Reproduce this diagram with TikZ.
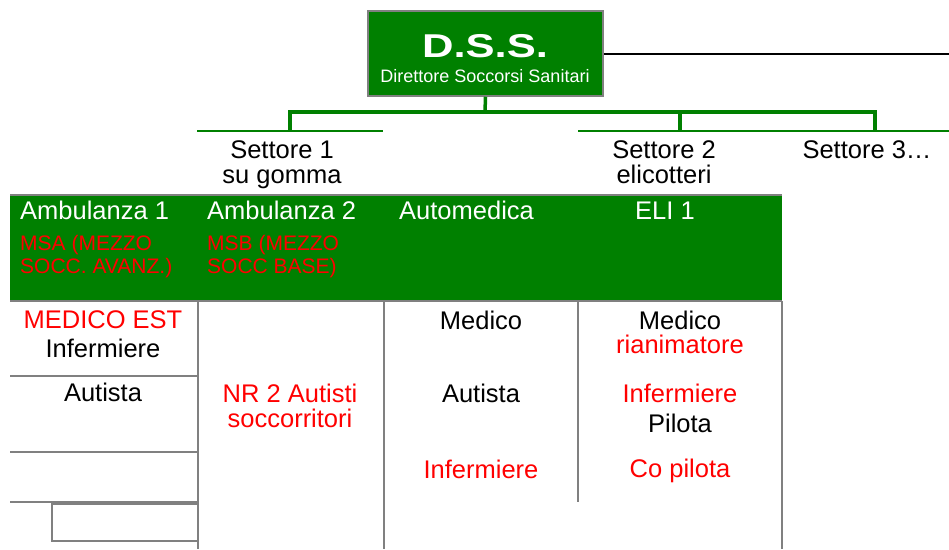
\documentclass[tikz,border=0pt]{standalone}
\usepackage{fontspec}
\setmainfont{Liberation Sans}
\usepackage{tikz}
\usetikzlibrary{positioning}
\definecolor{verde}{RGB}{0,128,0}
\definecolor{grigio}{RGB}{128,128,128}
\definecolor{rosso}{RGB}{255,0,0}
\tikzstyle{dss}=[draw=grigio,line width=1.5pt,fill=verde,minimum width=235pt,minimum height=85pt,inner sep=0pt]
\tikzstyle{ramo}=[draw,verde,line width=3.5pt]
\tikzstyle{settline}=[draw,verde,line width=2pt]
\tikzstyle{griglia}=[draw,grigio,line width=2pt]
\tikzstyle{voce}=[inner sep=0pt,anchor=base,font=\fontsize{25.5}{28}\selectfont]
\tikzstyle{mezzo}=[inner sep=0pt,anchor=base west,text=white,font=\fontsize{25.5}{28}\selectfont]
\tikzstyle{sigla}=[inner sep=0pt,anchor=base west,text=rosso,font=\fontsize{21}{21}\selectfont]
\begin{document}
\begin{tikzpicture}[x=1pt,y=-1pt]
	\useasboundingbox (0,0) rectangle (949,549);
	
	\node[dss] (dss) at (485.5,53.5) {};
	\node[inner sep=0pt,anchor=base,text=white,font=\bfseries\fontsize{33}{33}\selectfont] (dsstit) at (485,57) {\scalebox{1.32}[1]{D.S.S.}};
	\node[inner sep=0pt,anchor=base,text=white,font=\fontsize{18}{18}\selectfont] (dssdesc) at (485,82) {Direttore Soccorsi Sanitari};
	\coordinate (fine) at (949,53.5);
	\draw[black,line width=2pt] (dss.east) -- (fine);
	
	\coordinate (bus) at (485,112);
	\coordinate (s1) at (290,131);
	\coordinate (s2) at (680,131);
	\coordinate (s3) at (875,131);
	\path[ramo] (dss.south) -- (bus);
	\path[ramo] (s1) |- (bus) -| (s3);
	\path[ramo] (s2) -- (s2 |- bus);
	\path[settline] (197,131) -- (383,131);
	\path[settline] (578,131) -- (949,131);
	
	\node[voce] (set1) at (282,158) {Settore 1};
	\node[voce] (set1b) at (282,183) {su gomma};
	\node[voce] (set2) at (664,158) {Settore 2};
	\node[voce] (set2b) at (664,183) {elicotteri};
	\node[voce] (set3) at (867,158) {Settore 3…};
	
	\fill[verde] (10,195) rectangle (782,301);
	\path[griglia] (10,195) -- (782,195);
	\path[griglia] (10,301) -- (782,301);
	\node[mezzo] (amb1) at (20,219) {Ambulanza 1};
	\node[sigla] (msa) at (20,250) {MSA (MEZZO};
	\node[sigla] (msab) at (20,273) {SOCC. AVANZ.)};
	\node[mezzo] (amb2) at (207,219) {Ambulanza 2};
	\node[sigla] (msb) at (207,250) {MSB (MEZZO};
	\node[sigla] (msbb) at (207,273) {SOCC BASE)};
	\node[mezzo] (auto) at (399,219) {Automedica};
	\node[mezzo] (eli) at (635,219) {ELI 1};
	
	\path[griglia] (198,301) -- (198,549);
	\path[griglia] (384,301) -- (384,549);
	\path[griglia] (578,301) -- (578,502);
	\path[griglia] (782,301) -- (782,549);
	\path[griglia] (10,376) -- (198,376);
	\path[griglia] (10,452) -- (198,452);
	\path[griglia] (10,502) -- (198,502);
	\path[griglia] (52,504) rectangle (198,541);
	
	\node[voce,text=rosso] (medest) at (103,328) {MEDICO EST};
	\node[voce] (inf1) at (103,357) {Infermiere};
	\node[voce] (aut1) at (103,401) {Autista};
	\node[voce,text=rosso] (nr2) at (290,402) {NR 2 Autisti};
	\node[voce,text=rosso] (socc) at (290,427) {soccorritori};
	\node[voce] (med3) at (481,329) {Medico};
	\node[voce] (aut3) at (481,402) {Autista};
	\node[voce,text=rosso] (inf3) at (481,478) {Infermiere};
	\node[voce] (med4) at (680,329) {Medico};
	\node[voce,text=rosso] (rian) at (680,353) {rianimatore};
	\node[voce,text=rosso] (inf4) at (680,402) {Infermiere};
	\node[voce] (pil) at (680,432) {Pilota};
	\node[voce,text=rosso] (copil) at (680,477) {Co pilota};
\end{tikzpicture}
\end{document}
